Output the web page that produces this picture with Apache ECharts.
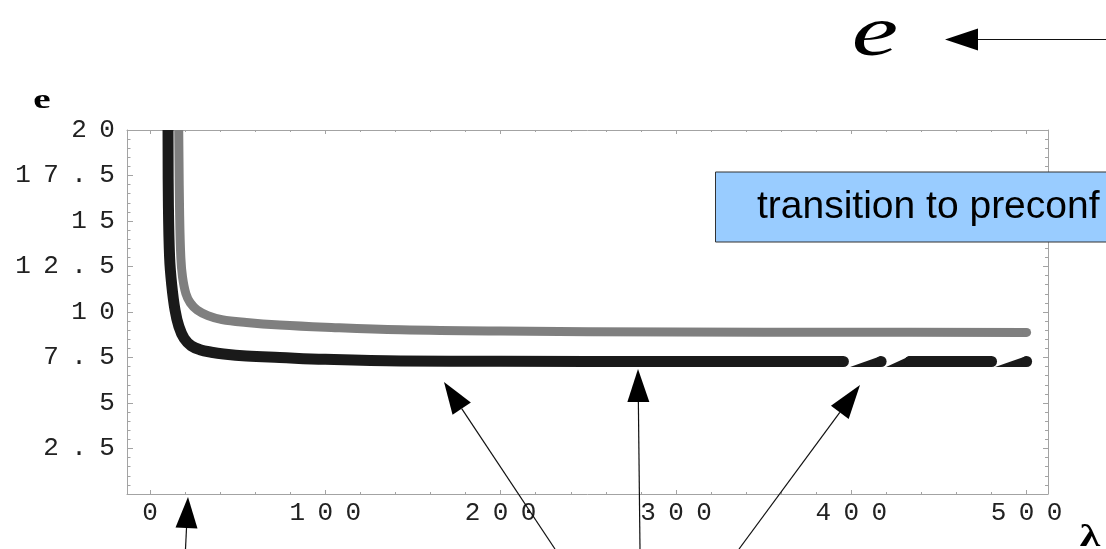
<!DOCTYPE html>
<html><head><meta charset="utf-8">
<script src="https://cdn.jsdelivr.net/npm/echarts@6/dist/echarts.min.js"></script>
<style>html,body{margin:0;padding:0;background:#fff}#c{width:1106px;height:549px}</style>
</head><body><div id="c"></div>
<script>
// ---------- data ----------
const xMajorTicks = [0, 100, 200, 300, 400, 500];
const xMinorTicks = [20, 40, 60, 80, 120, 140, 160, 180, 220, 240, 260, 280, 320, 340, 360, 380, 420, 440, 460, 480];
const yRange = [0, 20];
const yStep = 2.5;
// black curve (lower), main part and the trailing segment
const blackCurve = [[10.3, 20], [10.5, 16], [11.2, 13], [12.4, 11.5], [14.3, 10.1], [16.5, 9.2], [19.5, 8.55], [23.5, 8.15], [28.5, 7.93], [35, 7.79], [42, 7.69], [55, 7.58], [74, 7.5], [100, 7.4], [143, 7.31], [200, 7.29], [300, 7.28], [395.5, 7.28]];
const blackTail = [[433.5, 7.28], [480, 7.28]];
// wedge artifacts of the black curve: [start λ, end λ, e]
const blackWedges = [[399.3, 417, 7.28], [419.8, 433.5, 7.28], [482, 500, 7.28]];
// grey curve (upper)
const greyCurve = [[16.4, 20], [16.9, 15.5], [17.6, 13], [18.6, 11.9], [20.5, 11], [23, 10.5], [27, 10.1], [33, 9.8], [41, 9.58], [55, 9.42], [74, 9.28], [100, 9.16], [143, 9.02], [200, 8.95], [300, 8.9], [400, 8.89], [500, 8.88]];

// ---------- styles ----------
const BLACK = '#1a1a1a', GREY = '#7f7f7f';
const BLACK_W = 11, GREY_W = 9;
const AXIS_C = '#a3a3a3';
const X_MIN = -13.1, X_MAX = 512.2;

const richChar = { c: { width: 28, align: 'center', fontFamily: 'Liberation Mono', fontSize: 26, color: '#222' } };
function spaced(v) { return String(v).split('').map(ch => '{c|' + ch + '}').join(''); }
function yFmt(v) { return v === 0 ? '' : spaced(v); }

function endCapped(data, w) {
  return data.map((d, i) => i === data.length - 1 ? { value: d, symbol: 'circle', symbolSize: w } : { value: d, symbol: 'none' });
}

// annotation arrows (pixel layout)
const arrows = [
  { tail: [555, 549], tip: [444, 382], len: 32, half: 11 },
  { tail: [640, 549], tip: [638, 369], len: 33, half: 11 },
  { tail: [739, 549], tip: [860, 385], len: 34, half: 11 },
  { tail: [185.5, 549], tip: [188, 497], len: 31, half: 11 },
  { tail: [1110, 39.5], tip: [945, 39.5], len: 33, half: 11 }
];
const graphics = [];
arrows.forEach(a => {
  const dx = a.tail[0] - a.tip[0], dy = a.tail[1] - a.tip[1];
  const L = Math.hypot(dx, dy), ux = dx / L, uy = dy / L;
  const bx = a.tip[0] + ux * a.len, by = a.tip[1] + uy * a.len;
  graphics.push({ type: 'line', z: 100, shape: { x1: a.tail[0], y1: a.tail[1], x2: bx, y2: by }, style: { stroke: '#111', lineWidth: 1.2 } });
  graphics.push({ type: 'polygon', z: 100, shape: { points: [a.tip, [bx - uy * a.half, by + ux * a.half], [bx + uy * a.half, by - ux * a.half]] }, style: { fill: '#000' } });
});
graphics.push({ type: 'rect', z: 90, shape: { x: 715.5, y: 172, width: 420, height: 70 }, style: { fill: '#99ccff', stroke: '#333', lineWidth: 1 } });
graphics.push({ type: 'text', z: 95, x: 757, y: 207, style: { text: 'transition to preconf', font: '39px "Liberation Sans"', fill: '#000', align: 'left', verticalAlign: 'middle', textAlign: 'left', textVerticalAlign: 'middle' } });
graphics.push({ type: 'text', z: 95, x: 875, y: 36, scaleX: 1.45, style: { text: 'e', font: 'italic 72px "Liberation Serif"', fill: '#000', align: 'center', verticalAlign: 'middle', textAlign: 'center', textVerticalAlign: 'middle' } });
graphics.push({ type: 'text', z: 95, x: 42, y: 101, scaleX: 1.4, style: { text: 'e', font: 'bold 28px "Liberation Serif"', fill: '#000', align: 'center', verticalAlign: 'middle', textAlign: 'center', textVerticalAlign: 'middle' } });
graphics.push({ type: 'text', z: 95, x: 1090, y: 522, scaleX: 1.3, style: { text: 'λ', font: 'bold 32px "Liberation Serif"', fill: '#000', align: 'center', verticalAlign: 'top', textAlign: 'center', textVerticalAlign: 'top' } });

function xAxisDef(pos, ticks, len, showLine, showLabel) {
  return {
    type: 'value', position: pos, min: X_MIN, max: X_MAX,
    axisLine: { show: showLine, onZero: false, lineStyle: { color: AXIS_C, width: 1 } },
    axisTick: { show: true, inside: true, length: len, customValues: ticks, lineStyle: { color: AXIS_C, width: 1 } },
    axisLabel: showLabel ? { show: true, customValues: ticks, margin: 6, formatter: v => spaced(v), rich: richChar } : { show: false },
    splitLine: { show: false }
  };
}
function yAxisDef(pos, len, mlen, showLabel) {
  return {
    type: 'value', position: pos, min: yRange[0], max: yRange[1], interval: yStep,
    axisLine: { show: true, onZero: false, lineStyle: { color: AXIS_C, width: 1 } },
    axisTick: { show: true, inside: true, length: len, lineStyle: { color: AXIS_C, width: 1 } },
    minorTick: { show: true, splitNumber: 5, length: mlen, lineStyle: { color: AXIS_C, width: 1 } },
    axisLabel: showLabel ? { show: true, margin: 6, formatter: yFmt, rich: richChar } : { show: false },
    splitLine: { show: false }, minorSplitLine: { show: false }
  };
}

const chart = echarts.init(document.getElementById('c'), null, { renderer: 'canvas' });
chart.setOption({
  animation: false,
  backgroundColor: '#fff',
  grid: { left: 127, right: 58, top: 130, bottom: 55, containLabel: false, outerBoundsMode: 'none' },
  xAxis: [
    xAxisDef('bottom', xMajorTicks, 4, true, true),
    xAxisDef('bottom', xMinorTicks, 2, false, false),
    xAxisDef('top', xMajorTicks, 4, true, false),
    xAxisDef('top', xMinorTicks, 2, false, false)
  ],
  yAxis: [yAxisDef('left', 6, 3.5, true), yAxisDef('right', 5, 3, false)],
  series: [
    { type: 'line', xAxisIndex: 0, yAxisIndex: 0, data: endCapped(greyCurve, GREY_W), smooth: 0.4, showSymbol: true,
      lineStyle: { color: GREY, width: GREY_W, cap: 'butt', join: 'round' }, itemStyle: { color: GREY, borderWidth: 0 }, emphasis: { disabled: true } },
    { type: 'line', xAxisIndex: 0, yAxisIndex: 0, data: endCapped(blackCurve, BLACK_W), smooth: 0.4, showSymbol: true,
      lineStyle: { color: BLACK, width: BLACK_W, cap: 'butt', join: 'round' }, itemStyle: { color: BLACK, borderWidth: 0 }, emphasis: { disabled: true } },
    { type: 'line', xAxisIndex: 0, yAxisIndex: 0, data: blackTail, symbol: 'none',
      lineStyle: { color: BLACK, width: BLACK_W, cap: 'round' }, emphasis: { disabled: true } },
    { type: 'custom', xAxisIndex: 0, yAxisIndex: 0, data: blackWedges, encode: { x: [0, 1], y: 2 }, clip: false,
      renderItem: function (params, api) {
        const a = api.coord([api.value(0), api.value(2)]);
        const b = api.coord([api.value(1), api.value(2)]);
        const h = BLACK_W / 2;
        return { type: 'group', children: [
          { type: 'polygon', shape: { points: [[a[0], a[1] + h], [b[0], b[1] - h], [b[0], b[1] + h]] }, style: { fill: BLACK } },
          { type: 'circle', shape: { cx: b[0], cy: b[1], r: h }, style: { fill: BLACK } }
        ] };
      } }
  ],
  graphic: graphics
});
</script>
</body></html>
